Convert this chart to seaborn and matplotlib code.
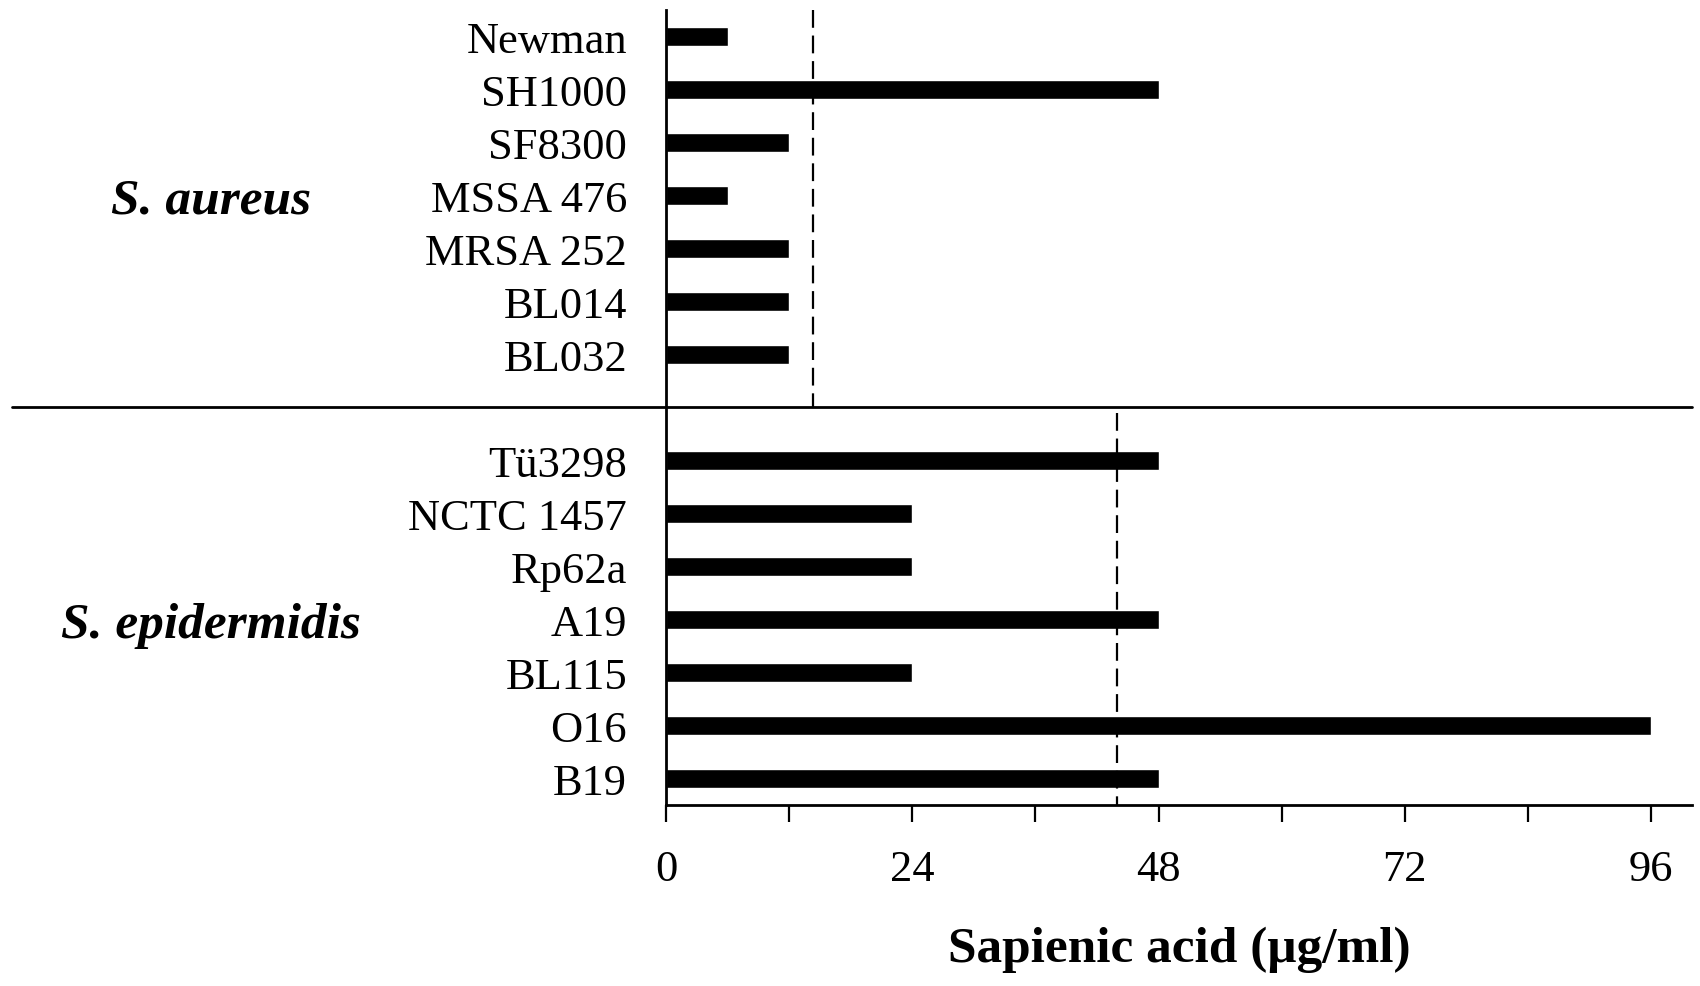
import pandas as pd
import numpy as np
import matplotlib
matplotlib.use("Agg")
import matplotlib.pyplot as plt
import matplotlib.transforms as mtransforms
import seaborn as sns

# datos
cepas_aureus = ["Newman", "SH1000", "SF8300", "MSSA 476", "MRSA 252", "BL014", "BL032"]
valores_aureus = [6, 48, 12, 6, 12, 12, 12]
cepas_epi = ["Tü3298", "NCTC 1457", "Rp62a", "A19", "BL115", "O16", "B19"]
valores_epi = [48, 24, 24, 48, 24, 96, 48]
grupos = ["S. aureus", "S. epidermidis"]
umbral_aureus = 14.3
umbral_epi = 44
ticks_x = [0, 24, 48, 72, 96]

sns.set_style("ticks")
plt.rcParams['font.family'] = ['Liberation Serif', 'DejaVu Serif']
plt.rcParams['text.color'] = 'black'
plt.rcParams['axes.labelcolor'] = 'black'
plt.rcParams['xtick.color'] = 'black'
plt.rcParams['ytick.color'] = 'black'

df = pd.DataFrame({
    "cepa": cepas_aureus + cepas_epi,
    "valor": valores_aureus + valores_epi,
})
orden = cepas_aureus + [" "] + cepas_epi
sep = len(cepas_aureus)

fig = plt.figure(figsize=(17, 9.87), dpi=100)
ax = fig.add_axes([0.3918, 0.1834, 0.6035, 0.8055])

sns.barplot(data=df, x="valor", y="cepa", order=orden, orient="h",
            color="black", width=0.37, saturation=1, ax=ax)

ax.set_xlim(0, 100)
ax.set_ylim(len(orden) - 0.5, -0.5)
ax.set_xticks(ticks_x)
ax.set_xticks([12, 36, 60, 84], minor=True)
ax.tick_params(axis="x", which="both", direction="out", length=12, width=1.6,
               labelsize=32, pad=20, colors="black")
ax.tick_params(axis="y", length=0, labelsize=32, pad=28, colors="black")
ax.set_ylabel("")
ax.set_xlabel("Sapienic acid (μg/ml)", fontsize=37, fontweight="bold", labelpad=26)

sns.despine(ax=ax, top=True, right=True)
for s in ["left", "bottom"]:
    ax.spines[s].set_linewidth(2)
    ax.spines[s].set_color("black")

# linea separadora entre especies
ax.axhline(sep, xmin=-0.638, xmax=1, color="black", lw=2, clip_on=False)

# lineas de corte discontinuas
ax.vlines(umbral_aureus, -0.5, sep, colors="black", linestyles=(0, (8, 3.5)), lw=1.6)
ax.vlines(umbral_epi, sep + 0.1, len(orden) - 0.5, colors="black", linestyles=(0, (8, 3.5)), lw=1.6)

# nombres de especies
tr = mtransforms.blended_transform_factory(fig.transFigure, ax.transData)
ax.text(0.124, 3, grupos[0], transform=tr, ha="center", va="center_baseline",
        fontsize=37, fontweight="bold", style="italic")
ax.text(0.124, sep + 4, grupos[1], transform=tr, ha="center", va="center_baseline",
        fontsize=37, fontweight="bold", style="italic")

plt.savefig("out.png", dpi=100)
